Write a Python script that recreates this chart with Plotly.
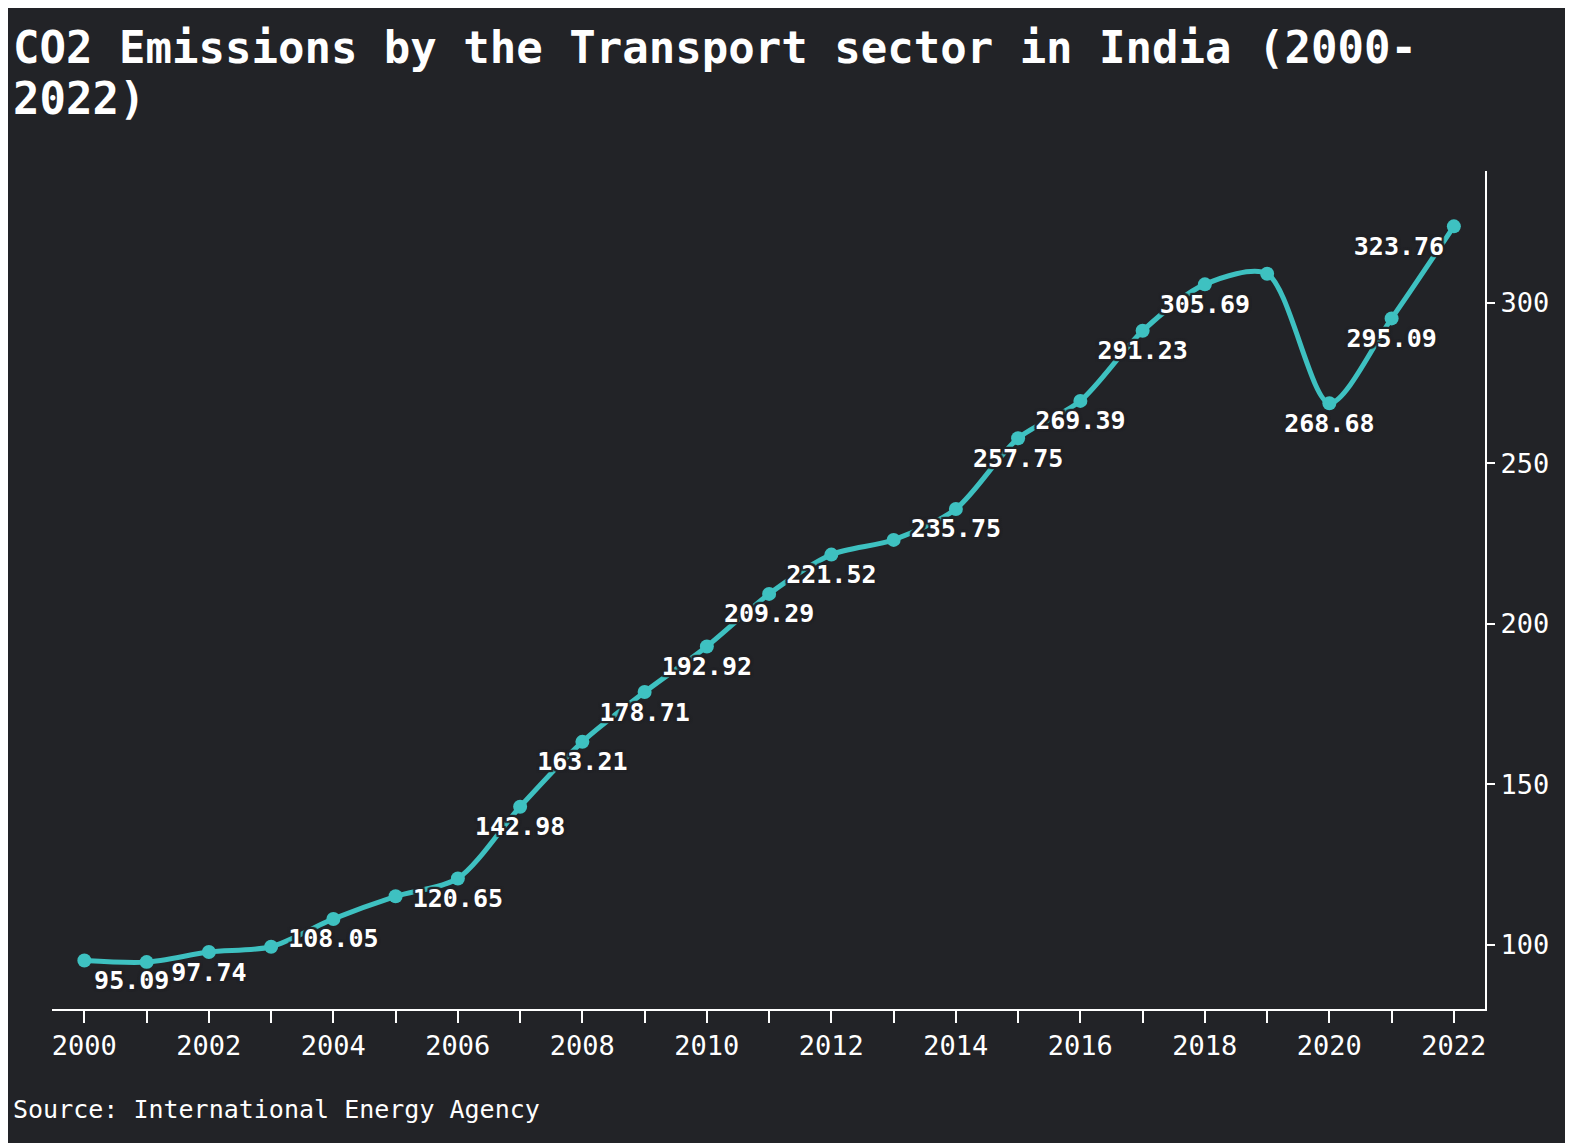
import plotly.graph_objects as go

# data
years = list(range(2000, 2023))
emissions = [95.09, 94.6, 97.74, 99.4, 108.05, 115.1, 120.65, 142.98, 163.21,
             178.71, 192.92, 209.29, 221.52, 226.1, 235.75, 257.75, 269.39,
             291.23, 305.69, 309.0, 268.68, 295.09, 323.76]
# labels that are shown on the chart (the rest are hidden in the original)
hidden = {2001, 2003, 2005, 2013, 2019}
labels = ["" if y in hidden else f"{v:.2f}" for y, v in zip(years, emissions)]
label_pos = ["bottom center"] * len(years)
label_pos[0] = "bottom right"
label_pos[-1] = "bottom left"

bg = "#222327"
teal = "#3ec1c1"
mono = "'DejaVu Sans Mono', 'Liberation Mono', monospace"
halo = ", ".join(f"{dx}px {dy}px 1px {bg}" for dx in (-2, 0, 2) for dy in (-2, 0, 2))

# plot area in pixels (page shows the figure with an 8px offset)
L, T, R, B = 44, 163, 96, 142
W, H = 1573, 1143
pw, ph = W - L - R, H - T - B

fig = go.Figure()
fig.add_trace(go.Scatter(
    x=years, y=emissions,
    mode="lines+markers+text",
    line=dict(color=teal, width=5, shape="spline", smoothing=0.8),
    marker=dict(color=teal, size=14),
    text=labels,
    textposition=label_pos,
    textfont=dict(family=mono, size=25, color="white", weight="bold", shadow=halo),
    cliponaxis=False,
    hoverinfo="x+y",
))

title_font = dict(family=mono, size=44, color="white", weight="bold")

fig.update_layout(
    width=W, height=H,
    paper_bgcolor=bg, plot_bgcolor=bg,
    margin=dict(l=L, r=R, t=T, b=B),
    showlegend=False,
    font=dict(family=mono, color="white", size=27),
    xaxis=dict(
        range=[1999.48, 2022.5],
        tickmode="array",
        tickvals=years,
        ticktext=[str(y) if y % 2 == 0 else "" for y in years],
        ticks="outside", ticklen=12, tickwidth=2, tickcolor="white",
        showline=True, linecolor="white", linewidth=2,
        showgrid=False, zeroline=False,
        tickfont=dict(size=27, color="white"),
    ),
    yaxis=dict(
        side="right",
        range=[80, 341],
        tickvals=[100, 150, 200, 250, 300],
        ticks="outside", ticklen=8, tickwidth=2, tickcolor="white",
        showline=True, linecolor="white", linewidth=2,
        showgrid=False, zeroline=False,
        tickfont=dict(size=27, color="white"),
    ),
    annotations=[
        dict(
            text="CO2 Emissions by the Transport sector in India (2000-",
            xref="paper", yref="paper", x=(3 - L) / pw, y=1 + (T - 39) / ph,
            xanchor="left", yanchor="middle", showarrow=False,
            font=title_font,
        ),
        dict(
            text="2022)",
            xref="paper", yref="paper", x=(3 - L) / pw, y=1 + (T - 90) / ph,
            xanchor="left", yanchor="middle", showarrow=False,
            font=title_font,
        ),
        dict(
            text="Source: International Energy Agency",
            xref="paper", yref="paper", x=(3 - L) / pw, y=-(1101 - (H - B)) / ph,
            xanchor="left", yanchor="middle", showarrow=False,
            font=dict(family=mono, size=25, color="white"),
        ),
    ],
)

fig.write_html("out.html")
